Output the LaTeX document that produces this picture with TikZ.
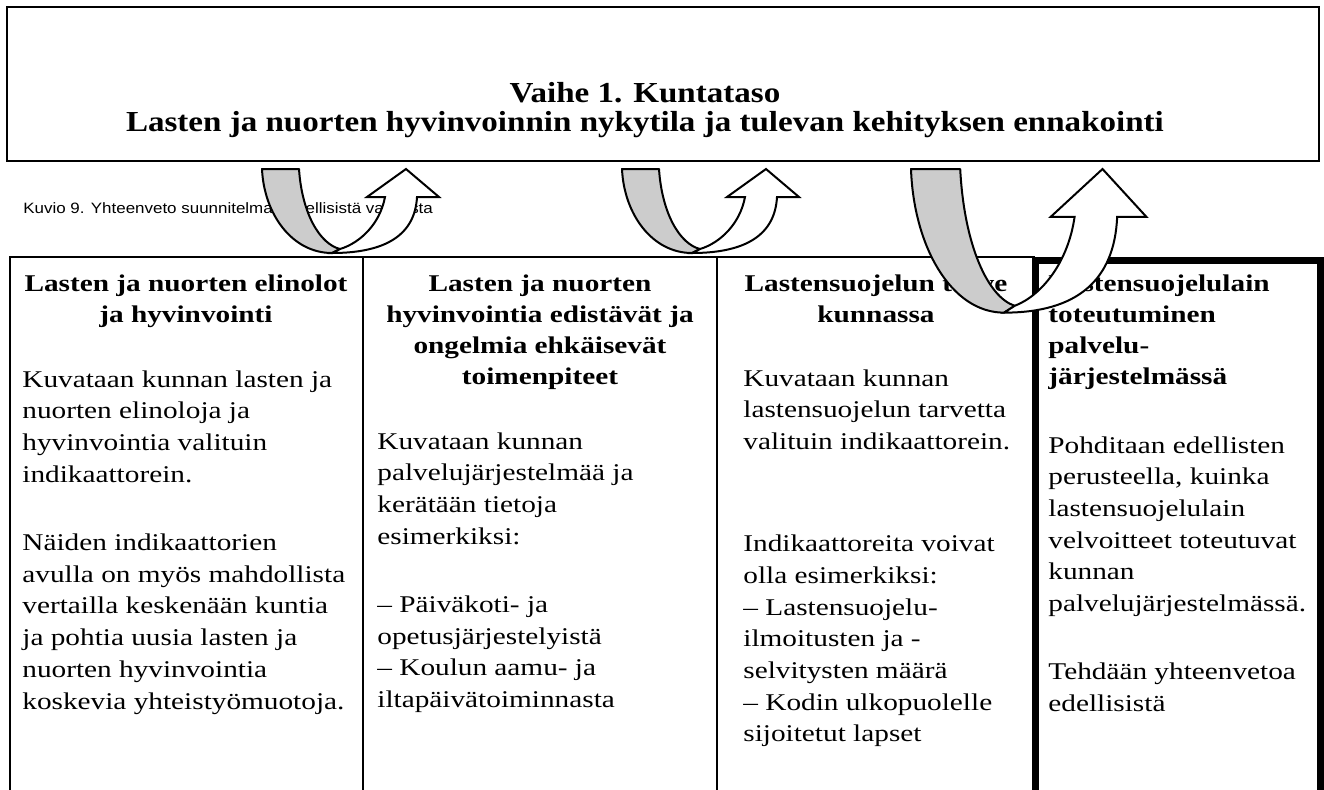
\documentclass[tikz,border=0pt]{standalone}
\usepackage{fontspec}
\setmainfont[FakeStretch=1.22]{Liberation Serif}
\newfontfamily\titlefamily[FakeStretch=1.14]{Liberation Serif}
\newfontfamily\capfamily[FakeStretch=1.13]{Liberation Sans}
\usepackage{tikz}
\usetikzlibrary{positioning}

% the turning arrow between the phase box and the table
\tikzset{
  uturn/.pic={
    \filldraw[fill=black!20, line width=1pt, line join=round] (0,0) -- (37,0)
      .. controls (40,45) and (58,75) .. (78,80) -- (70,84)
      .. controls (30,84) and (2,45) .. (0,0) -- cycle;
    \filldraw[fill=white, line width=1pt] (70,84)
      .. controls (125,84) and (153,65) .. (155,28) -- (177,28) -- (144,0)
      -- (105,28) -- (123,28) .. controls (118,55) and (98,74) .. (78,80) -- cycle;
  }
}

\begin{document}
\begin{tikzpicture}[x=0.5pt, y=-0.5pt,
frame/.style={draw, line width=1pt},
heavy/.style={draw, line width=3.5pt},
titletxt/.style={font=\titlefamily\bfseries\fontsize{14.5pt}{14.5pt}\selectfont, align=center, inner sep=0pt, anchor=base},
captxt/.style={font=\capfamily\fontsize{7.5pt}{9pt}\selectfont, inner sep=0pt, anchor=base west},
headtxt/.style={font=\bfseries\fontsize{12pt}{15.5pt}\selectfont, align=center, inner sep=0pt, anchor=base},
bodytxt/.style={font=\fontsize{12pt}{15.85pt}\selectfont, align=left, inner sep=0pt, anchor=base west}
]
\useasboundingbox (0,0) rectangle (1324,789);
\clip (0,0) rectangle (1324,789);

% phase box (text nodes sit on the baseline of their last line)
\node[frame, minimum width=656pt, minimum height=77pt] (phase) at (663,84) {};
\node[titletxt] (title) at (645,131.7) {Vaihe 1. Kuntataso\\Lasten ja nuorten hyvinvoinnin nykytila ja tulevan kehityksen ennakointi};

\node[captxt] (caption) at (23,213) {Kuvio 9. Yhteenveto suunnitelman edellisistä vaiheista};

% table
\draw[frame] (10,800) |- (1035,257);
\draw[frame] (363,257) -- (363,800);
\draw[frame] (717,257) -- (717,800);
\draw[heavy] (1035,800) |- (1320,260.5) -- (1320,800);

\node[headtxt] (head1) at (186,322.7) {Lasten ja nuorten elinolot\\ja hyvinvointi};
\node[headtxt] (head2) at (540,384.7) {Lasten ja nuorten\\hyvinvointia edistävät ja\\ongelmia ehkäisevät\\toimenpiteet};
\node[headtxt] (head3) at (876,322.7) {Lastensuojelun tarve\\kunnassa};
\node[headtxt, align=left, anchor=base west] (head4) at (1048,384.7) {Lastensuojelulain\\toteutuminen\\palvelu-\\järjestelmässä};

\node[bodytxt] (text1) at (22,709) {Kuvataan kunnan lasten ja\\nuorten elinoloja ja\\hyvinvointia valituin\\indikaattorein.\\[18.35pt]Näiden indikaattorien\\avulla on myös mahdollista\\vertailla keskenään kuntia\\ja pohtia uusia lasten ja\\nuorten hyvinvointia\\koskevia yhteistyömuotoja.};
\node[bodytxt] (text2) at (377,707.6) {Kuvataan kunnan\\palvelujärjestelmää ja\\kerätään tietoja\\esimerkiksi:\\[18.35pt]– Päiväkoti- ja\\opetusjärjestelyistä\\– Koulun aamu- ja\\iltapäivätoiminnasta};
\node[bodytxt] (text3) at (743,741.9) {Kuvataan kunnan\\lastensuojelun tarvetta\\valituin indikaattorein.\\[35.3pt]Indikaattoreita voivat\\olla esimerkiksi:\\– Lastensuojelu-\\ilmoitusten ja -\\selvitysten määrä\\– Kodin ulkopuolelle\\sijoitetut lapset};
\node[bodytxt] (text4) at (1048,711.6) {Pohditaan edellisten\\perusteella, kuinka\\lastensuojelulain\\velvoitteet toteutuvat\\kunnan\\palvelujärjestelmässä.\\[18.35pt]Tehdään yhteenvetoa\\edellisistä};

% arrows from the phase box down to the table
\pic at (262,169) {uturn};
\pic at (622,169) {uturn};
\pic[xscale=1.33, yscale=1.71] at (911,169) {uturn};
\end{tikzpicture}
\end{document}
